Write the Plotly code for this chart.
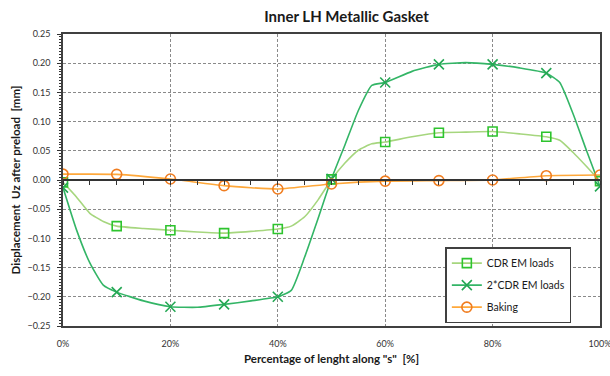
import plotly.graph_objects as go

# ---------------- data ----------------
pct_line = [0, 2.5, 5, 7.5, 10, 15, 20, 25, 30, 35, 40, 42.5, 45, 47.5, 50,
            52.5, 55, 57.5, 60, 65, 70, 75, 80, 85, 90, 92.5, 95, 97.5, 100]
cdr_line = [-0.004, -0.029, -0.057, -0.071, -0.079, -0.083, -0.086, -0.089, -0.091,
            -0.088, -0.084, -0.079, -0.063, -0.034, 0.001, 0.029, 0.051, 0.062,
            0.065, 0.074, 0.081, 0.082, 0.083, 0.079, 0.074, 0.068, 0.047, 0.023, -0.002]
cdr2_line = [-0.013, -0.085, -0.142, -0.180, -0.192, -0.207, -0.217, -0.218, -0.213,
             -0.207, -0.200, -0.189, -0.132, -0.066, 0.002, 0.060, 0.119, 0.162,
             0.167, 0.186, 0.198, 0.201, 0.198, 0.192, 0.183, 0.167, 0.113, 0.050, -0.011]

pct_mark = [0, 10, 20, 30, 40, 50, 60, 70, 80, 90, 100]
cdr_mark = [-0.004, -0.079, -0.086, -0.091, -0.084, 0.001, 0.065, 0.081, 0.083, 0.074, -0.002]
cdr2_mark = [-0.013, -0.192, -0.217, -0.213, -0.200, 0.002, 0.167, 0.198, 0.198, 0.183, -0.011]
bake_mark = [0.010, 0.0097, 0.0017, -0.0097, -0.0154, -0.0068, -0.002, -0.001, 0.000, 0.0074, 0.0086]

names = ["CDR EM loads", "2*CDR EM loads", "Baking"]
x_ticks = [0, 20, 40, 60, 80, 100]
x_tick_text = ["0%", "20%", "40%", "60%", "80%", "100%"]
y_ticks = [-0.25, -0.20, -0.15, -0.10, -0.05, 0.00, 0.05, 0.10, 0.15, 0.20, 0.25]

# ---------------- styles ----------------
FONT = "Lato"
series = [
    dict(name=names[0], lx=pct_line, ly=cdr_line, my=cdr_mark, lcol="#A6D67E",
         mcol="#2EC42E", sym="square-open", msize=9),
    dict(name=names[1], lx=pct_line, ly=cdr2_line, my=cdr2_mark, lcol="#33B566",
         mcol="#24A854", sym="x-thin-open", msize=10),
    dict(name=names[2], lx=pct_mark, ly=bake_mark, my=bake_mark, lcol="#FFA83A",
         mcol="#F07D20", sym="circle-open", msize=10),
]

fig = go.Figure()
for i, s in enumerate(series):
    grp = f"g{i}"
    fig.add_trace(go.Scatter(
        x=s["lx"], y=s["ly"], mode="lines", showlegend=False, legendgroup=grp,
        line=dict(color=s["lcol"], width=1.6, shape="spline", smoothing=0.5),
        hoverinfo="skip"))
for i, s in enumerate(series):
    grp = f"g{i}"
    fig.add_trace(go.Scatter(
        x=pct_mark, y=s["my"], mode="markers", showlegend=False, legendgroup=grp,
        marker=dict(symbol=s["sym"], size=s["msize"], color=s["mcol"],
                    line=dict(color=s["mcol"], width=1.6))))
for i, s in enumerate(series):
    grp = f"g{i}"
    fig.add_trace(go.Scatter(
        x=[None], y=[None], mode="lines+markers", name=s["name"], legendgroup=grp,
        line=dict(color=s["lcol"], width=1.6),
        marker=dict(symbol=s["sym"], size=s["msize"], color=s["mcol"],
                    line=dict(color=s["mcol"], width=1.6))))

# zero-crossing x axis line with minor ticks (Excel style)
fig.add_trace(go.Scatter(x=[None], y=[None], xaxis="x2", showlegend=False))

fig.update_layout(
    width=610, height=376,
    margin=dict(l=62.5, r=10, t=34, b=50),
    paper_bgcolor="white", plot_bgcolor="white",
    font=dict(family=FONT, size=9, color="#333333"),
    title=dict(text="<b>Inner LH Metallic Gasket</b>", x=0.568, xanchor="center",
               y=0.955, yanchor="middle", font=dict(family=FONT, size=15, color="#1a1a1a")),
    xaxis=dict(range=[0, 100], tickvals=x_ticks, ticktext=x_tick_text, automargin=False,
               ticklabeloverflow="allow",
               showgrid=True, gridcolor="#8a8a8a", griddash="3px,2px", gridwidth=1,
               showline=True, linecolor="#404040", linewidth=1.5, mirror=True,
               zeroline=False, ticks="", ticklabelstandoff=8,
               tickfont=dict(size=9, color="#333333"),
               title=dict(text='<b>Percentage of lenght along "s"  [%]</b>',
                          font=dict(size=11.5, color="#1a1a1a"), standoff=7)),
    xaxis2=dict(range=[0, 100], overlaying="x", anchor="free", position=0.5, side="bottom",
                showline=True, linecolor="#333333", linewidth=1.5,
                ticks="outside", tickcolor="#333333", ticklen=4, tickwidth=1,
                dtick=5, tick0=0, showticklabels=False, showgrid=False, zeroline=False),
    yaxis=dict(range=[-0.25, 0.25], tickvals=y_ticks, tickformat=".2f", automargin=False,
               showgrid=True, gridcolor="#8a8a8a", griddash="3px,2px", gridwidth=1,
               showline=True, linecolor="#404040", linewidth=1.5, mirror=True,
               zeroline=False, ticks="outside", ticklen=4, tickcolor="#333333",
               ticklabelstandoff=5,
               minor=dict(dtick=0.005, ticks="outside", ticklen=2.5, tickcolor="#333333",
                          showgrid=False),
               tickfont=dict(size=9, color="#333333"),
               title=dict(text="<b>Displacement  Uz after preload  [mm]</b>",
                          font=dict(size=11.5, color="#1a1a1a"), standoff=4)),
    legend=dict(x=0.712, y=0.27, xanchor="left", yanchor="top",
                bgcolor="white", bordercolor="#404040", borderwidth=1.5,
                font=dict(size=10.5, color="#1a1a1a"), traceorder="grouped",
                tracegroupgap=3, itemwidth=30),
    showlegend=True,
)

fig.write_html("out.html")
